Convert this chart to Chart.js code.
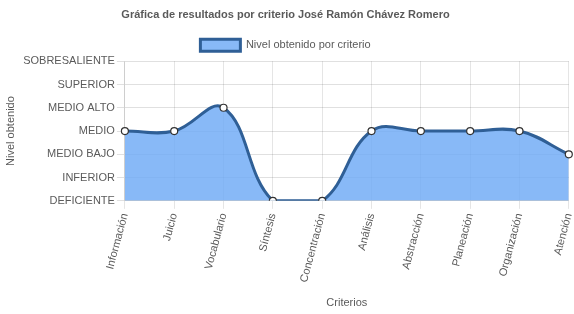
<!DOCTYPE html>
<html>
<head>
<meta charset="utf-8">
<script src="https://cdn.jsdelivr.net/npm/chart.js@4/dist/chart.umd.min.js"></script>
<style>
  html, body { margin: 0; padding: 0; background: #fff; }
  #wrap { width: 574px; height: 314px; }
</style>
</head>
<body>
<div id="wrap"><canvas id="grafica"></canvas></div>
<script>
const criterios = ['Información', 'Juicio', 'Vocabulario', 'Síntesis', 'Concentración', 'Análisis', 'Abstracción', 'Planeación', 'Organización', 'Atención'];
const niveles = ['DEFICIENTE', 'INFERIOR', 'MEDIO BAJO', 'MEDIO', 'MEDIO ALTO', 'SUPERIOR', 'SOBRESALIENTE'];
const resultados = [3, 3, 4, 0, 0, 3, 3, 3, 3, 2];

Chart.defaults.font.family = "'Liberation Sans', Arial, sans-serif";
Chart.defaults.color = '#5a5a5a';

const ctx = document.getElementById('grafica').getContext('2d');
new Chart(ctx, {
    type: 'line',
    data: {
        labels: criterios,
        datasets: [{
            label: 'Nivel obtenido por criterio',
            data: resultados,
            fill: true,
            tension: 0.4,
            borderColor: '#2f5f96',
            backgroundColor: 'rgba(110,170,245,0.82)',
            borderWidth: 3,
            pointRadius: 3.5,
            pointBorderWidth: 1.2,
            pointBackgroundColor: '#fff',
            pointBorderColor: '#333'
        }]
    },
    options: {
        responsive: true,
        maintainAspectRatio: false,
        animation: false,
        layout: {padding: {left: 0, right: 3, top: 0, bottom: 0}},
        plugins: {
            title: {
                display: true,
                text: 'Gráfica de resultados por criterio José Ramón Chávez Romero',
                font: {size: 11, weight: 'bold'},
                padding: {top: 8, bottom: 12}
            },
            legend: {
                labels: {
                    boxWidth: 40,
                    boxHeight: 12,
                    padding: 6,
                    font: {size: 11}
                }
            }
        },
        scales: {
            y: {
                min: 0,
                max: 6,
                ticks: {
                    stepSize: 1,
                    padding: 2,
                    font: {size: 11},
                    callback: (v) => niveles[v]
                },
                grid: {color: 'rgba(0,0,0,0.12)', tickLength: 8},
                title: {display: true, text: 'Nivel obtenido', font: {size: 11}}
            },
            x: {
                ticks: {
                    minRotation: 75,
                    maxRotation: 75,
                    font: {size: 11}
                },
                grid: {color: 'rgba(0,0,0,0.1)', tickLength: 8},
                title: {display: true, text: 'Criterios', font: {size: 11}, padding: {top: 10, bottom: 4}},
                afterFit: (scale) => { scale.paddingRight = 0; }
            }
        }
    }
});
</script>
</body>
</html>
